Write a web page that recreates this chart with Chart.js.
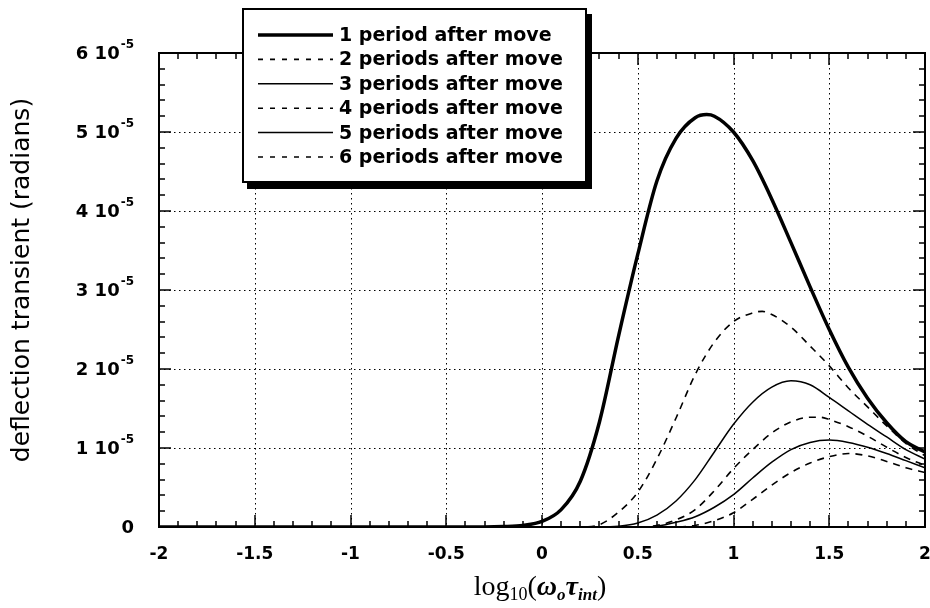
<!DOCTYPE html>
<html>
<head>
<meta charset="utf-8">
<script src="https://cdn.jsdelivr.net/npm/chart.js@4"></script>
<style>
  body { margin: 0; background: #fff; }
  #wrap { width: 930px; height: 608px; }
</style>
</head>
<body>
<div id="wrap"><canvas id="myChart"></canvas></div>
<script>
// deflection transient vs log10(w0*tau_int), values in units of 1e-5 rad
const seriesLabels = [
    '1 period after move',
    '2 periods after move',
    '3 periods after move',
    '4 periods after move',
    '5 periods after move',
    '6 periods after move'
];

const x1 = [-2, -0.3, -0.2, -0.1, 0, 0.1, 0.2, 0.3, 0.4, 0.5, 0.6, 0.7, 0.8, 0.86, 0.9, 1.0, 1.1, 1.2, 1.3, 1.4, 1.5, 1.6, 1.7, 1.8, 1.9, 2.0];
const y1 = [0, 0, 0.005, 0.02, 0.07, 0.22, 0.58, 1.33, 2.42, 3.45, 4.38, 4.92, 5.18, 5.22, 5.2, 5.0, 4.64, 4.15, 3.6, 3.04, 2.5, 2.02, 1.63, 1.32, 1.08, 0.95];

const x2 = [-2, 0.2, 0.3, 0.4, 0.5, 0.6, 0.7, 0.8, 0.9, 1.0, 1.1, 1.15, 1.2, 1.3, 1.4, 1.5, 1.6, 1.7, 1.8, 1.9, 2.0];
const y2 = [0, 0, 0.03, 0.19, 0.44, 0.86, 1.38, 1.93, 2.34, 2.6, 2.71, 2.73, 2.69, 2.53, 2.29, 2.04, 1.76, 1.52, 1.28, 1.06, 0.9];

const x3 = [-2, 0.3, 0.4, 0.5, 0.6, 0.7, 0.8, 0.9, 1.0, 1.1, 1.2, 1.3, 1.4, 1.5, 1.6, 1.7, 1.8, 1.9, 2.0];
const y3 = [0, 0, 0.01, 0.05, 0.15, 0.33, 0.6, 0.95, 1.3, 1.58, 1.77, 1.85, 1.8, 1.64, 1.47, 1.3, 1.14, 0.98, 0.86];

const x4 = [-2, 0.5, 0.6, 0.7, 0.8, 0.9, 1.0, 1.1, 1.2, 1.3, 1.4, 1.45, 1.5, 1.6, 1.7, 1.8, 1.9, 2.0];
const y4 = [0, 0, 0.02, 0.09, 0.22, 0.46, 0.74, 0.98, 1.19, 1.33, 1.39, 1.39, 1.36, 1.27, 1.15, 1.01, 0.88, 0.78];

const x5 = [-2, 0.55, 0.6, 0.7, 0.8, 0.9, 1.0, 1.1, 1.2, 1.3, 1.4, 1.5, 1.6, 1.7, 1.8, 1.9, 2.0];
const y5 = [0, 0, 0.01, 0.06, 0.13, 0.25, 0.41, 0.62, 0.82, 0.98, 1.07, 1.1, 1.07, 1.01, 0.93, 0.84, 0.75];

const x6 = [-2, 0.7, 0.8, 0.9, 1.0, 1.1, 1.2, 1.3, 1.4, 1.5, 1.6, 1.7, 1.8, 1.9, 2.0];
const y6 = [0, 0, 0.02, 0.08, 0.18, 0.35, 0.53, 0.69, 0.81, 0.89, 0.93, 0.9, 0.83, 0.75, 0.69];

const xTicks = [-2, -1.5, -1, -0.5, 0, 0.5, 1, 1.5, 2];
const xTickLabels = ['-2', '-1.5', '-1', '-0.5', '0', '0.5', '1', '1.5', '2'];
const yTicks = [0, 1, 2, 3, 4, 5, 6];
const yTickLabels = ['0', '1 10^-5', '2 10^-5', '3 10^-5', '4 10^-5', '5 10^-5', '6 10^-5'];

const xs = [x1, x2, x3, x4, x5, x6];
const ys = [y1, y2, y3, y4, y5, y6];
const widths = [3.5, 1.6, 1.5, 1.6, 1.5, 1.6];
const dashes = [[], [7, 6], [], [7, 6], [], [7, 6]];

const SANS = '"DejaVu Sans", sans-serif';
const SERIF = '"Liberation Serif", "DejaVu Serif", serif';

function drawText(ctx, parts, x, y) {
    // parts: [text, font, dy], centred on x
    let w = 0;
    parts.forEach(p => { ctx.font = p[1]; w += ctx.measureText(p[0]).width; });
    let cx = x - w / 2;
    parts.forEach(p => {
        ctx.font = p[1];
        ctx.fillText(p[0], cx, y + (p[2] || 0));
        cx += ctx.measureText(p[0]).width;
    });
}

const framePlugin = {
    id: 'frame',
    beforeDatasetsDraw(chart) {
        const { ctx, chartArea: a, scales } = chart;
        ctx.save();
        ctx.strokeStyle = '#000';
        ctx.lineWidth = 1;
        ctx.setLineDash([1.5, 3.5]);
        xTicks.slice(1, -1).forEach(v => {
            const px = Math.round(scales.x.getPixelForValue(v)) + 0.5;
            ctx.beginPath(); ctx.moveTo(px, a.top); ctx.lineTo(px, a.bottom); ctx.stroke();
        });
        yTicks.slice(1, -1).forEach(v => {
            const py = Math.round(scales.y.getPixelForValue(v)) + 0.5;
            ctx.beginPath(); ctx.moveTo(a.left, py); ctx.lineTo(a.right, py); ctx.stroke();
        });
        ctx.restore();
    },
    afterDatasetsDraw(chart) {
        const { ctx, chartArea: a, scales } = chart;
        ctx.save();
        ctx.strokeStyle = '#000';
        ctx.fillStyle = '#000';

        // minor / major ticks pointing inward on all four sides
        ctx.lineWidth = 1.5;
        for (let i = -20; i <= 20; i++) {
            const v = i / 10;
            const len = i % 5 === 0 ? 12 : 6;
            const px = Math.round(scales.x.getPixelForValue(v));
            ctx.beginPath();
            ctx.moveTo(px, a.bottom); ctx.lineTo(px, a.bottom - len);
            ctx.moveTo(px, a.top); ctx.lineTo(px, a.top + len);
            ctx.stroke();
        }
        for (let i = 0; i <= 30; i++) {
            const v = i / 5;
            const len = i % 5 === 0 ? 12 : 6;
            const py = Math.round(scales.y.getPixelForValue(v));
            ctx.beginPath();
            ctx.moveTo(a.left, py); ctx.lineTo(a.left + len, py);
            ctx.moveTo(a.right, py); ctx.lineTo(a.right - len, py);
            ctx.stroke();
        }

        // frame
        ctx.lineWidth = 2;
        ctx.strokeRect(a.left, a.top, a.right - a.left, a.bottom - a.top);

        // x tick labels
        ctx.font = 'bold 17px ' + SANS;
        ctx.textAlign = 'center';
        ctx.textBaseline = 'middle';
        xTicks.forEach((v, i) => {
            ctx.fillText(xTickLabels[i], scales.x.getPixelForValue(v), 555);
        });

        // y tick labels with superscript exponent
        ctx.textAlign = 'left';
        yTicks.forEach((v, i) => {
            const py = scales.y.getPixelForValue(v);
            const [m, e] = yTickLabels[i].split('^');
            ctx.font = 'bold 18px ' + SANS;
            const mw = ctx.measureText(m).width;
            let ew = 0;
            if (e) { ctx.font = 'bold 12px ' + SANS; ew = ctx.measureText(e).width + 1; }
            const x0 = 134 - mw - ew;
            ctx.font = 'bold 18px ' + SANS;
            ctx.fillText(m, x0, py + 1);
            if (e) { ctx.font = 'bold 12px ' + SANS; ctx.fillText(e, x0 + mw + 1, py - 8); }
        });

        // axis titles
        ctx.save();
        ctx.translate(22, 280);
        ctx.rotate(-Math.PI / 2);
        ctx.textAlign = 'center';
        ctx.font = '25px ' + SANS;
        ctx.fillText('deflection transient (radians)', 0, 0);
        ctx.restore();

        ctx.textAlign = 'left';
        ctx.textBaseline = 'alphabetic';
        drawText(ctx, [
            ['log', '28px ' + SERIF],
            ['10', '18px ' + SERIF, 5],
            ['(', '28px ' + SERIF],
            ['\u03c9', 'italic bold 28px ' + SERIF],
            ['o', 'italic bold 17px ' + SERIF, 5],
            ['\u03c4', 'italic bold 28px ' + SERIF],
            ['int', 'italic bold 17px ' + SERIF, 5],
            [')', '28px ' + SERIF]
        ], 540, 595);

        // legend box with drop shadow
        const lx = 242, ly = 8, lw = 345, lh = 175;
        ctx.fillRect(lx + 5, ly + 6, lw, lh);
        ctx.fillStyle = '#fff';
        ctx.fillRect(lx, ly, lw, lh);
        ctx.lineWidth = 2;
        ctx.strokeRect(lx + 1, ly + 1, lw - 2, lh - 2);
        ctx.fillStyle = '#000';
        ctx.font = 'bold 19px ' + SANS;
        ctx.textBaseline = 'middle';
        chart.data.datasets.forEach((ds, i) => {
            const ry = 35 + i * 24.4;
            ctx.lineWidth = ds.borderWidth;
            ctx.setLineDash(ds.borderDash.length ? [5, 7] : []);
            ctx.beginPath(); ctx.moveTo(258, ry); ctx.lineTo(333, ry); ctx.stroke();
            ctx.setLineDash([]);
            ctx.fillText(ds.label, 339, ry + 1);
        });
        ctx.restore();
    }
};

const ctx = document.getElementById('myChart').getContext('2d');
new Chart(ctx, {
    type: 'line',
    data: {
        datasets: seriesLabels.map((label, i) => ({
            label: label,
            data: xs[i].map((x, j) => ({ x: x, y: ys[i][j] })),
            borderColor: '#000',
            borderWidth: widths[i],
            borderDash: dashes[i],
            pointRadius: 0,
            fill: false,
            cubicInterpolationMode: 'monotone'
        }))
    },
    options: {
        responsive: true,
        maintainAspectRatio: false,
        animation: false,
        layout: { padding: { left: 159, right: 5, top: 53, bottom: 81 } },
        plugins: { legend: { display: false }, tooltip: { enabled: false } },
        scales: {
            x: { type: 'linear', min: -2, max: 2, display: false },
            y: { min: 0, max: 6, display: false }
        }
    },
    plugins: [framePlugin]
});
</script>
</body>
</html>
